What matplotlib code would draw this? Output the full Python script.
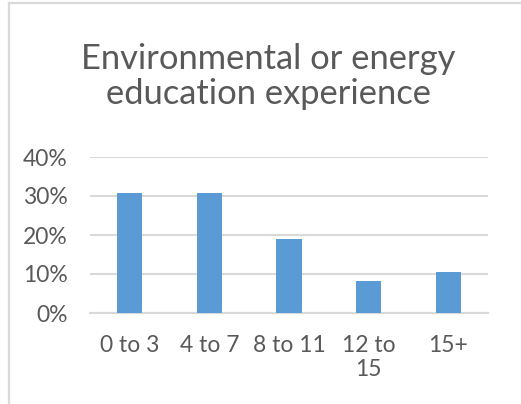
import matplotlib
matplotlib.use("Agg")
import matplotlib.pyplot as plt
from matplotlib.lines import Line2D
from matplotlib.ticker import PercentFormatter

# Share of respondents by years of environmental / energy education experience
categories = ["0 to 3", "4 to 7", "8 to 11", "12 to\n15", "15+"]
shares = [30.7, 30.7, 18.9, 8.3, 10.6]
y_ticks = [0, 10, 20, 30, 40]

TEXT = "#595959"
GRID = "#d9d9d9"
BAR = "#5b9bd5"

plt.rcParams["font.family"] = ["Lato", "DejaVu Sans"]

W, H = 521, 404
fig = plt.figure(figsize=(W / 100, H / 100), dpi=100)

# chart-area frame (only the left and top edges fall inside the image)
fig.add_artist(Line2D([8.5 / W, 8.5 / W], [0, 1 - 2.5 / H], color=GRID, lw=1.6,
                      transform=fig.transFigure))
fig.add_artist(Line2D([8.5 / W, 1], [1 - 2.5 / H, 1 - 2.5 / H], color=GRID, lw=1.6,
                      transform=fig.transFigure))

ax = fig.add_axes([90 / W, 1 - 313 / H, (488 - 90) / W, (313 - 157) / H])
x = range(len(categories))
ax.bar(x, shares, width=0.315, color=BAR, zorder=3)

ax.set_xlim(-0.5, len(categories) - 0.5)
ax.set_ylim(0, 40)
ax.set_yticks(y_ticks)
ax.yaxis.set_major_formatter(PercentFormatter(decimals=0))
ax.set_xticks(list(x))
ax.set_xticklabels(categories, linespacing=1.15)
ax.tick_params(axis="both", length=0, labelsize=16.5, labelcolor=TEXT)
ax.tick_params(axis="y", pad=16)
ax.tick_params(axis="x", pad=16)
for lbl in ax.get_xticklabels():
    lbl.set_verticalalignment("top")

ax.grid(axis="y", color=GRID, lw=1.5, zorder=0)
ax.set_axisbelow(True)
for side in ("top", "right", "left"):
    ax.spines[side].set_visible(False)
ax.spines["bottom"].set_color(GRID)
ax.spines["bottom"].set_linewidth(1.5)

fig.text(268 / W, 1 - 43 / H, "Environmental or energy\neducation experience",
         ha="center", va="top", fontsize=24.8, color=TEXT, linespacing=1.12)

fig.savefig("out.png", dpi=100)
